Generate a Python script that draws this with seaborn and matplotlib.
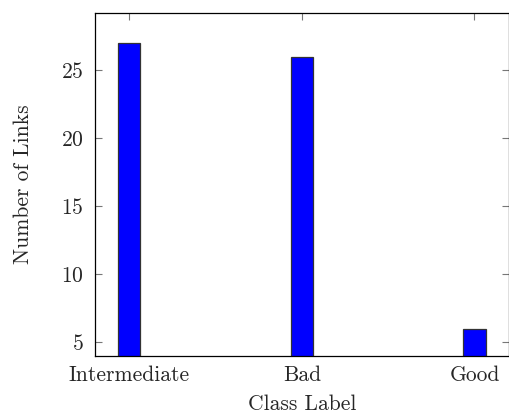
import matplotlib
matplotlib.use("Agg")
import matplotlib.pyplot as plt
import seaborn as sns
import pandas as pd

categories = ["Intermediate", "Bad", "Good"]
counts = [27, 26, 6]

sns.set_theme(style="white")
plt.rcParams['font.family'] = ['cmr10', 'DejaVu Serif']
plt.rcParams['mathtext.fontset'] = 'cm'
plt.rcParams['axes.formatter.use_mathtext'] = True

df = pd.DataFrame({"label": categories, "count": counts})

fig = plt.figure(figsize=(5.1, 4.13), dpi=100)
ax = fig.add_axes([0.186, 0.138, 0.812, 0.830])
sns.barplot(data=df, x="label", y="count", ax=ax, color="#0000ff",
            saturation=1, width=0.128, edgecolor="#333333", linewidth=0.9)
ax.set_xlim(-0.2, 2.2)
ax.set_ylim(4.0, 29.2)
ax.set_yticks([5, 10, 15, 20, 25])
ax.set_xlabel("Class Label", fontsize=15.5, labelpad=7)
ax.set_ylabel("Number of Links", fontsize=15.5, labelpad=20)
ax.tick_params(axis="both", which="both", direction="in", length=5,
               color="#777777", width=0.8, labelsize=15.5,
               top=True, right=True, bottom=True, left=True)
ax.tick_params(axis="x", pad=7)
ax.tick_params(axis="y", pad=8)
for s in ax.spines.values():
    s.set_color("black")
    s.set_linewidth(0.9)
    s.set_visible(True)
fig.savefig("out.png", dpi=100)
